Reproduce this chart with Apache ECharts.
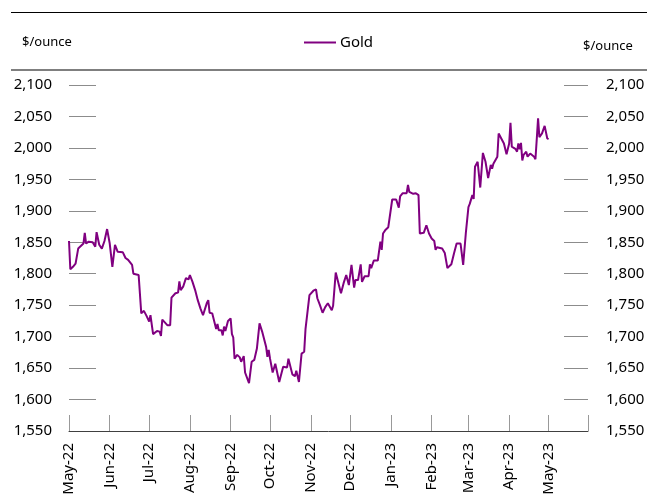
<!DOCTYPE html>
<html>
<head>
<meta charset="utf-8">
<script src="https://cdn.jsdelivr.net/npm/echarts@6/dist/echarts.min.js"></script>
<style>
  html, body { margin: 0; padding: 0; background: #fff; }
  #chart { width: 672px; height: 501px; }
</style>
</head>
<body>
<div id="chart"></div>
<script>
// gold price, $/ounce
const dates = [
  '2022-05-01', '2022-05-02', '2022-05-04', '2022-05-06', '2022-05-07', '2022-05-08', '2022-05-12', '2022-05-13',
  '2022-05-14', '2022-05-16', '2022-05-19', '2022-05-21', '2022-05-22', '2022-05-24', '2022-05-26', '2022-05-28',
  '2022-05-29', '2022-05-30', '2022-06-01', '2022-06-03', '2022-06-05', '2022-06-07', '2022-06-11', '2022-06-13',
  '2022-06-15', '2022-06-18', '2022-06-19', '2022-06-23', '2022-06-25', '2022-06-27', '2022-06-29', '2022-07-01',
  '2022-07-02', '2022-07-04', '2022-07-07', '2022-07-09', '2022-07-10', '2022-07-11', '2022-07-15', '2022-07-17',
  '2022-07-18', '2022-07-21', '2022-07-23', '2022-07-24', '2022-07-25', '2022-07-27', '2022-07-29', '2022-07-31',
  '2022-08-01', '2022-08-03', '2022-08-05', '2022-08-07', '2022-08-09', '2022-08-11', '2022-08-14', '2022-08-15',
  '2022-08-16', '2022-08-18', '2022-08-19', '2022-08-21', '2022-08-22', '2022-08-23', '2022-08-25', '2022-08-26',
  '2022-08-27', '2022-08-28', '2022-08-30', '2022-09-01', '2022-09-02', '2022-09-03', '2022-09-04', '2022-09-06',
  '2022-09-08', '2022-09-09', '2022-09-11', '2022-09-12', '2022-09-15', '2022-09-17', '2022-09-19', '2022-09-21',
  '2022-09-23', '2022-09-25', '2022-09-28', '2022-09-29', '2022-09-30', '2022-10-01', '2022-10-03', '2022-10-05',
  '2022-10-06', '2022-10-08', '2022-10-11', '2022-10-14', '2022-10-15', '2022-10-16', '2022-10-18', '2022-10-20',
  '2022-10-21', '2022-10-23', '2022-10-25', '2022-10-27', '2022-10-28', '2022-10-31', '2022-11-03', '2022-11-05',
  '2022-11-06', '2022-11-08', '2022-11-10', '2022-11-12', '2022-11-14', '2022-11-17', '2022-11-18', '2022-11-19',
  '2022-11-20', '2022-11-24', '2022-11-25', '2022-11-26', '2022-11-28', '2022-11-30', '2022-12-02', '2022-12-03',
  '2022-12-04', '2022-12-05', '2022-12-07', '2022-12-09', '2022-12-10', '2022-12-12', '2022-12-15', '2022-12-16',
  '2022-12-17', '2022-12-19', '2022-12-22', '2022-12-24', '2022-12-25', '2022-12-26', '2022-12-28', '2022-12-30',
  '2023-01-02', '2023-01-05', '2023-01-07', '2023-01-08', '2023-01-10', '2023-01-13', '2023-01-14', '2023-01-15',
  '2023-01-18', '2023-01-20', '2023-01-22', '2023-01-23', '2023-01-26', '2023-01-28', '2023-01-30', '2023-02-01',
  '2023-02-03', '2023-02-04', '2023-02-05', '2023-02-09', '2023-02-11', '2023-02-13', '2023-02-16', '2023-02-18',
  '2023-02-20', '2023-02-23', '2023-02-25', '2023-02-27', '2023-03-01', '2023-03-02', '2023-03-04', '2023-03-05',
  '2023-03-06', '2023-03-08', '2023-03-09', '2023-03-10', '2023-03-12', '2023-03-14', '2023-03-16', '2023-03-18',
  '2023-03-19', '2023-03-20', '2023-03-23', '2023-03-24', '2023-03-26', '2023-03-27', '2023-03-28', '2023-03-30',
  '2023-04-01', '2023-04-02', '2023-04-03', '2023-04-06', '2023-04-07', '2023-04-08', '2023-04-09', '2023-04-10',
  '2023-04-11', '2023-04-12', '2023-04-14', '2023-04-15', '2023-04-17', '2023-04-20', '2023-04-21', '2023-04-22',
  '2023-04-23', '2023-04-24', '2023-04-26', '2023-04-28', '2023-04-30', '2023-05-01'
]
const gold = [
  1852, 1807, 1811, 1816, 1819, 1840, 1848, 1865,
  1848, 1851, 1850, 1843, 1866, 1846, 1840, 1852,
  1850, 1871, 1848, 1811, 1846, 1835, 1834, 1825,
  1822, 1814, 1800, 1798, 1737, 1741, 1733, 1724,
  1734, 1704, 1709, 1708, 1701, 1727, 1718, 1718,
  1762, 1769, 1770, 1788, 1774, 1780, 1793, 1791,
  1798, 1787, 1774, 1758, 1745, 1734, 1754, 1758,
  1738, 1737, 1729, 1712, 1720, 1710, 1710, 1702,
  1716, 1709, 1725, 1729, 1704, 1699, 1665, 1671,
  1667, 1660, 1669, 1643, 1626, 1660, 1663, 1681,
  1721, 1708, 1684, 1668, 1679, 1665, 1643, 1657,
  1658, 1628, 1652, 1651, 1665, 1663, 1640, 1637,
  1646, 1628, 1673, 1676, 1712, 1766, 1773, 1775,
  1761, 1750, 1738, 1747, 1753, 1742, 1749, 1748,
  1802, 1769, 1770, 1785, 1798, 1782, 1814, 1812,
  1778, 1790, 1790, 1815, 1787, 1796, 1796, 1815,
  1809, 1821, 1821, 1851, 1838, 1864, 1870, 1874,
  1918, 1918, 1905, 1923, 1928, 1928, 1941, 1930,
  1927, 1928, 1925, 1864, 1865, 1877, 1864, 1856,
  1852, 1838, 1842, 1840, 1833, 1809, 1815, 1832,
  1848, 1848, 1814, 1864, 1906, 1911, 1925, 1919,
  1970, 1978, 1981, 1937, 1992, 1978, 1952, 1973,
  1967, 1975, 1986, 2023, 2015, 2012, 2007, 1990,
  2007, 2040, 2002, 1998, 1994, 2007, 1998, 2008,
  1980, 1989, 1994, 1986, 1991, 1986, 1982, 2014,
  2047, 2017, 2023, 2035, 2015, 2014
]
const axisStart = '2022-05-01'
const axisEnd = '2023-05-31'
const monthNames = ['Jan', 'Feb', 'Mar', 'Apr', 'May', 'Jun', 'Jul', 'Aug', 'Sep', 'Oct', 'Nov', 'Dec']
const yTicks = { min: 1550, max: 2100, step: 50 }

// every calendar day on the axis, so months are spaced by their real length
const days = []
for (let t = Date.parse(axisStart); t <= Date.parse(axisEnd); t += 86400000) {
  days.push(new Date(t).toISOString().slice(0, 10))
}
const priceByDay = {}
dates.forEach((d, i) => { priceByDay[d] = gold[i] })
const seriesData = days.map(d => (d in priceByDay ? priceByDay[d] : null))

const isMonthStart = (idx, val) => val.slice(8) === '01'
const fmtMonth = (val) => monthNames[Number(val.slice(5, 7)) - 1] + '-' + val.slice(2, 4)
const fmtNum = (v) => v.toLocaleString('en-US')

const font = 'Noto Sans'
const chart = echarts.init(document.getElementById('chart'), null, { renderer: 'canvas' })

const yAxisBase = {
  type: 'value',
  min: yTicks.min,
  max: yTicks.max,
  interval: yTicks.step,
  axisLine: { show: false },
  splitLine: { show: false },
  axisLabel: { color: '#000', fontSize: 15, fontFamily: font, formatter: fmtNum }
}

chart.setOption({
  animation: false,
  backgroundColor: '#fff',
  textStyle: { fontFamily: font },
  grid: { left: 69, right: 84, top: 85, bottom: 70 },
  legend: {
    left: 299,
    top: 30,
    icon: 'rect',
    itemWidth: 32,
    itemHeight: 2,
    itemGap: 0,
    textStyle: { color: '#000', fontSize: 15, fontFamily: font, padding: [0, 0, 0, -1] },
    data: ['Gold']
  },
  graphic: [
    { type: 'line', shape: { x1: 11, y1: 12.5, x2: 647, y2: 12.5 }, style: { stroke: '#000', lineWidth: 1 } },
    { type: 'line', shape: { x1: 11, y1: 70, x2: 647, y2: 70 }, style: { stroke: '#7f7f7f', lineWidth: 2 } },
    { type: 'text', left: 22, top: 36, style: { text: '$/ounce', fill: '#000', font: '13px "Noto Sans"' } },
    { type: 'text', left: 583, top: 40, style: { text: '$/ounce', fill: '#000', font: '13px "Noto Sans"' } }
  ],
  xAxis: {
    type: 'category',
    data: days,
    boundaryGap: false,
    z: 2,
    axisLine: { lineStyle: { color: '#404040', width: 1 } },
    axisTick: {
      inside: true,
      length: 16,
      interval: (idx, val) => isMonthStart(idx, val) || idx === days.length - 1,
      lineStyle: { color: '#999' }
    },
    axisLabel: {
      interval: isMonthStart,
      rotate: 90,
      margin: 12,
      color: '#000',
      fontSize: 15,
      fontFamily: font,
      formatter: fmtMonth
    },
    splitLine: { show: false }
  },
  yAxis: [
    Object.assign({}, yAxisBase, {
      position: 'left',
      axisTick: { show: true, inside: true, length: 27, lineStyle: { color: '#8c8c8c' } },
      axisLabel: Object.assign({}, yAxisBase.axisLabel, { margin: 17 })
    }),
    Object.assign({}, yAxisBase, {
      position: 'right',
      axisTick: { show: true, inside: true, length: 24, lineStyle: { color: '#8c8c8c' } },
      axisLabel: Object.assign({}, yAxisBase.axisLabel, { margin: 18 })
    })
  ],
  series: [
    {
      name: 'Gold',
      type: 'line',
      data: seriesData,
      connectNulls: true,
      symbol: 'none',
      lineStyle: { color: '#800080', width: 2 },
      itemStyle: { color: '#800080' }
    }
  ]
})
</script>
</body>
</html>
